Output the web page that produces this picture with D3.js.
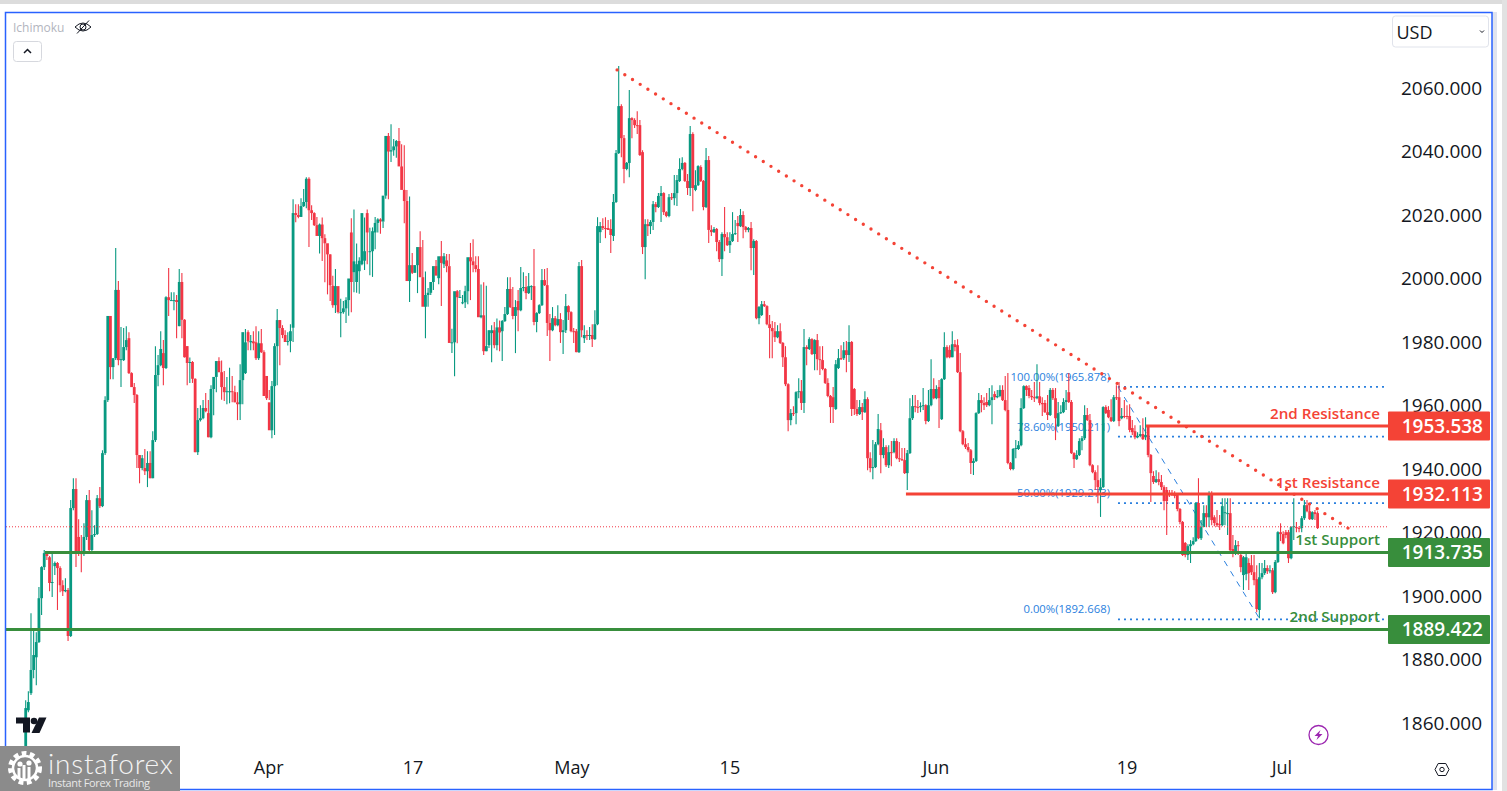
<!DOCTYPE html>
<html>
<head>
<meta charset="utf-8">
<title>XAU/USD H4</title>
<script src="https://cdn.jsdelivr.net/npm/d3@7"></script>
<style>
    html, body { margin: 0; padding: 0; background: #fff; overflow: hidden; }
    svg { display: block; }
</style>
</head>
<body>
<div id="chart"></div>
<script>
// Candle values (ten candles per row)
const opens = [
1851.4,1864.0,1869.4,1876.7,1880.7,1885.5,1899.3,1909.1,1913.5,1912.2,
1904.1,1909.4,1910.4,1908.8,1903.4,1901.5,1901.9,1887.4,1927.7,1933.7,
1918.6,1913.5,1913.2,1918.6,1930.2,1914.5,1919.2,1919.5,1930.8,1928.3,
1945.0,1961.7,1988.2,1972.1,1974.9,1996.4,1974.3,1974.3,1978.4,1981.2,
1970.2,1965.8,1963.3,1944.4,1940.3,1940.3,1939.3,1941.9,1937.1,1949.1,
1969.6,1972.7,1976.5,1971.8,1994.1,1993.2,1993.2,1993.2,1985.0,1998.9,
1987.0,1978.7,1973.4,1973.7,1968.4,1945.3,1955.4,1956.0,1959.2,1957.6,
1950.0,1965.2,1969.0,1974.0,1970.5,1965.8,1964.2,1964.5,1964.5,1964.2,
1961.0,1960.4,1968.0,1970.2,1983.1,1979.9,1980.2,1979.9,1974.9,1979.6,
1976.8,1969.3,1961.0,1952.2,1966.1,1978.7,1986.9,1984.4,1982.2,1980.0,
1980.3,1984.5,2020.6,2020.0,2019.4,2022.8,2024.1,2031.4,2021.5,2020.6,
2016.8,2013.4,2017.0,2012.7,2011.1,2007.6,1997.7,1991.6,1997.6,1989.4,
1989.4,1990.6,1993.2,2014.5,2002.0,1998.9,2002.3,2004.5,2005.6,2020.6,
2008.6,2008.6,2014.5,2017.5,2018.6,2017.9,2026.1,2044.9,2040.0,2040.4,
2041.6,2043.3,2035.3,2027.9,2024.4,1999.2,2004.2,2001.8,2004.2,2009.9,
2000.4,1991.1,1994.8,1995.5,1998.9,2003.9,2000.1,2007.0,2004.5,2005.7,
2003.9,1979.7,1979.9,1996.0,1994.1,1992.2,1992.5,1996.0,2006.7,2005.4,
2004.2,2003.0,1987.8,1988.4,1977.1,1979.0,1982.8,1983.7,1979.0,1984.6,
1983.4,1986.6,1988.8,1996.7,1991.0,1988.2,1992.9,1990.0,1997.0,1997.3,
1995.4,1997.6,1997.6,1986.3,1989.1,1991.6,1999.5,1997.9,1986.0,1983.7,
1987.5,1985.3,1987.2,1983.1,1983.7,1991.3,1989.4,1983.4,1983.4,1976.8,
2003.9,1981.2,1982.2,1981.9,1982.2,1980.9,1985.6,2014.6,2016.5,2015.9,
2015.9,2015.6,2013.4,2024.1,2039.5,2054.3,2044.2,2034.5,2036.4,2050.5,
2049.9,2048.3,2048.3,2039.8,2009.9,2017.1,2016.5,2017.8,2023.4,2022.5,
2026.0,2026.9,2020.9,2019.7,2025.6,2025.3,2026.9,2030.7,2034.5,2036.4,
2030.7,2028.5,2045.5,2027.9,2029.4,2035.1,2030.7,2022.5,2037.3,2015.3,
2014.6,2015.6,2011.5,2006.1,2014.0,2013.0,2010.5,2011.8,2014.0,2017.5,
2016.5,2020.0,2016.2,2015.3,2015.9,2009.6,2011.8,1987.5,1988.5,1991.9,
1991.3,1985.6,1984.4,1983.4,1981.5,1983.4,1979.7,1975.2,1966.7,1955.4,
1957.6,1957.6,1964.2,1964.5,1960.8,1978.4,1977.8,1980.9,1976.2,1980.6,
1974.6,1974.3,1971.5,1967.1,1963.0,1962.6,1958.9,1971.8,1974.9,1974.9,
1977.4,1975.9,1980.0,1965.2,1958.9,1957.3,1959.5,1957.9,1962.0,1943.4,
1940.3,1940.6,1947.8,1952.2,1944.4,1946.9,1941.2,1945.3,1945.3,1948.8,
1943.4,1943.1,1942.8,1938.7,1945.0,1956.0,1959.8,1959.5,1959.5,1959.8,
1960.1,1955.1,1960.1,1965.2,1962.3,1965.8,1955.7,1968.3,1978.4,1977.5,
1975.2,1979.3,1979.0,1970.5,1951.9,1947.8,1946.9,1945.9,1941.9,1942.5,
1957.6,1961.7,1960.8,1961.1,1960.1,1961.7,1963.6,1962.6,1963.0,1964.9,
1961.7,1958.6,1941.9,1940.0,1946.3,1946.3,1947.5,1959.2,1966.1,1965.5,
1963.0,1962.6,1962.3,1962.9,1960.8,1960.8,1957.9,1957.0,1964.9,1962.3,
1953.5,1957.6,1957.9,1961.1,1964.2,1961.1,1945.0,1943.1,1944.4,1948.8,
1949.7,1957.0,1955.4,1941.2,1939.0,1936.5,1933.4,1934.3,1959.5,1958.6,
1956.3,1955.1,1962.6,1962.6,1956.0,1956.7,1956.7,1956.7,1952.9,1951.9,
1950.0,1950.4,1951.0,1950.0,1953.5,1944.4,1937.8,1935.9,1936.8,1935.9,
1934.3,1933.4,1932.1,1932.1,1931.8,1931.8,1927.4,1923.3,1916.7,1912.9,
1915.7,1916.3,1917.3,1929.3,1918.2,1921.7,1926.1,1924.8,1932.1,1924.8,
1923.0,1922.6,1922.3,1926.1,1925.8,1926.1,1914.8,1913.5,1916.0,1912.9,
1906.6,1906.9,1910.4,1909.7,1907.5,1905.3,1895.6,1905.9,1907.2,1908.8,
1907.8,1908.1,1901.2,1910.7,1920.1,1919.5,1920.1,1920.1,1911.9,1921.7,
1921.7,1921.4,1921.4,1924.5,1928.6,1926.7,1924.2,1926.4,1926.1,
];
const highs = [
1867.2,1870.0,1894.6,1889.2,1888.6,1902.8,1909.4,1914.5,1914.1,1912.6,
1913.5,1910.9,1910.7,1909.4,1905.0,1905.6,1902.5,1930.2,1937.1,1937.1,
1924.2,1919.2,1922.9,1931.8,1933.4,1927.0,1922.3,1931.8,1934.3,1945.9,
1962.9,1988.2,1988.2,1974.9,2009.6,1999.2,1984.7,1984.4,1985.0,1983.1,
1970.5,1967.1,1963.6,1944.4,1944.4,1946.3,1945.6,1945.6,1951.9,1978.7,
1975.9,1983.4,1980.6,1994.4,2003.3,1995.7,1995.7,1994.8,2003.0,2001.7,
1987.2,1978.7,1975.1,1974.0,1968.6,1959.2,1960.1,1961.7,1963.9,1961.7,
1966.4,1966.5,1970.5,1975.2,1974.2,1970.9,1969.0,1971.9,1969.3,1966.2,
1964.2,1973.0,1974.8,1984.1,1983.7,1982.2,1983.4,1985.0,1983.4,1984.1,
1977.4,1969.3,1964.9,1967.7,1979.6,1990.4,1986.9,1985.3,1983.7,1983.1,
1985.6,2025.0,2023.4,2023.4,2025.3,2028.2,2031.9,2031.9,2023.1,2020.9,
2019.4,2017.3,2019.2,2013.9,2010.0,2007.6,2000.9,2003.0,1996.7,1993.6,
1992.9,1994.1,1995.5,2019.0,2021.7,2011.0,2006.7,2005.3,2019.2,2021.7,
2016.0,2016.1,2019.4,2019.0,2019.0,2017.9,2029.1,2045.8,2048.6,2043.9,
2043.6,2047.4,2042.3,2042.0,2027.9,2025.8,2008.0,2004.2,2006.1,2014.9,
2012.1,2002.2,1997.0,1997.3,2001.7,2005.8,2005.8,2011.8,2008.0,2007.7,
2007.7,1984.2,1980.0,1996.4,1996.4,1994.8,1997.7,2004.6,2011.2,2012.4,
2007.0,2007.0,1998.1,1998.8,1997.7,1983.7,1985.3,1986.3,1987.4,1986.8,
1986.9,1991.0,2000.4,2000.4,1997.3,1993.2,1996.4,2003.6,2002.0,2000.8,
2001.7,1997.9,2009.3,1989.4,1991.9,2003.0,2003.0,2003.3,1988.8,1991.0,
1988.2,1991.6,1989.1,1986.9,1995.1,1991.6,1989.7,1984.4,1984.1,2005.2,
2005.8,1985.3,1983.7,1984.7,1985.6,1990.0,2019.3,2017.8,2019.0,2019.3,
2018.4,2018.7,2026.6,2040.5,2066.9,2054.9,2045.2,2036.7,2059.4,2050.8,
2050.5,2052.7,2049.9,2040.4,2018.7,2018.7,2018.4,2024.4,2024.1,2026.9,
2029.1,2027.2,2021.2,2026.6,2026.9,2032.6,2032.6,2037.9,2038.2,2036.7,
2032.9,2048.0,2046.1,2034.1,2035.7,2035.7,2031.0,2041.1,2038.6,2016.8,
2016.2,2015.9,2012.1,2014.6,2022.5,2014.6,2014.6,2020.9,2018.4,2019.7,
2021.9,2021.2,2016.5,2016.2,2017.8,2012.4,2012.1,1991.3,1992.9,1992.9,
1991.6,1988.5,1986.6,1986.3,1985.3,1985.9,1980.0,1978.7,1967.0,1958.9,
1959.8,1964.5,1968.6,1968.0,1984.1,1979.0,1981.5,1981.2,1980.9,1982.5,
1978.7,1978.7,1971.8,1968.6,1963.3,1965.8,1974.3,1977.8,1979.0,1980.0,
1980.3,1985.3,1980.3,1965.5,1961.7,1961.7,1960.8,1964.5,1962.6,1945.3,
1949.1,1948.5,1957.3,1954.5,1949.7,1947.5,1947.5,1948.8,1949.7,1949.7,
1948.5,1946.6,1946.6,1946.0,1962.3,1963.3,1963.3,1961.7,1961.0,1965.5,
1960.4,1964.9,1974.6,1968.6,1966.4,1968.0,1968.6,1983.1,1979.0,1979.0,
1983.4,1980.6,1980.9,1976.5,1952.3,1949.7,1948.2,1946.3,1943.4,1957.9,
1963.9,1963.3,1962.6,1963.9,1965.5,1966.4,1964.5,1964.9,1966.4,1966.4,
1969.3,1970.2,1942.2,1946.6,1949.1,1948.8,1962.3,1966.4,1966.4,1966.4,
1964.9,1967.4,1973.0,1967.4,1962.6,1961.7,1963.3,1965.5,1965.5,1965.5,
1961.1,1960.1,1962.3,1964.9,1970.2,1961.7,1945.3,1945.9,1949.7,1950.4,
1960.1,1959.2,1957.3,1941.5,1939.6,1941.2,1937.1,1959.8,1960.1,1959.8,
1962.0,1963.3,1966.4,1967.4,1959.2,1961.7,1960.1,1960.4,1955.4,1953.8,
1951.6,1953.8,1956.0,1956.3,1953.8,1944.7,1939.3,1939.6,1939.0,1938.1,
1934.9,1934.3,1933.4,1933.4,1933.0,1932.1,1927.7,1923.6,1917.0,1916.3,
1917.6,1918.5,1929.6,1937.1,1923.9,1928.6,1928.6,1933.0,1933.0,1925.4,
1927.1,1925.5,1930.8,1930.8,1930.8,1930.8,1919.2,1917.6,1917.3,1913.8,
1912.6,1913.5,1911.9,1912.9,1912.9,1909.7,1910.4,1910.4,1911.3,1909.7,
1909.7,1908.8,1911.3,1920.4,1922.9,1920.4,1920.8,1920.8,1922.0,1930.8,
1923.3,1922.0,1925.2,1930.2,1930.2,1928.6,1926.7,1927.1,1926.7,
];
const lows = [
1849.2,1863.4,1868.8,1874.1,1871.9,1885.2,1894.0,1908.2,1911.3,1901.5,
1899.7,1906.6,1895.6,1901.2,1900.0,1901.2,1885.8,1887.1,1927.0,1909.1,
1912.6,1907.5,1912.6,1917.6,1913.5,1914.2,1918.6,1919.2,1927.7,1928.0,
1944.4,1961.1,1968.3,1968.3,1974.3,1972.7,1965.8,1974.0,1977.4,1969.9,
1968.4,1960.8,1940.3,1935.5,1939.6,1938.1,1934.3,1937.1,1937.1,1948.5,
1966.1,1972.4,1966.4,1971.5,1988.2,1993.0,1990.0,1981.2,1985.0,1981.2,
1975.1,1966.4,1967.1,1967.1,1945.3,1944.4,1955.0,1955.7,1957.9,1950.0,
1949.7,1956.9,1964.2,1970.5,1961.8,1961.4,1960.4,1960.7,1961.0,1961.0,
1955.4,1955.4,1960.4,1969.9,1977.4,1977.4,1977.4,1974.3,1974.3,1976.5,
1970.0,1961.7,1961.7,1949.7,1950.7,1966.4,1972.7,1981.2,1982.2,1978.9,
1976.8,1980.0,2017.7,2019.0,2019.4,2022.5,2022.1,2009.9,2018.4,2016.5,
2016.5,2007.9,2005.5,1998.8,1995.0,1992.9,1990.8,1989.1,1989.0,1981.5,
1988.9,1986.0,1988.3,1989.4,1995.7,1995.5,1995.2,2004.2,2002.7,2004.5,
2001.0,2000.5,2009.2,2014.5,2014.1,2015.9,2025.1,2025.0,2036.7,2038.7,
2038.0,2041.1,2031.6,2017.4,2022.5,1992.6,2001.4,2001.8,1995.4,2004.2,
1998.9,1981.2,1991.1,1994.8,1996.4,2003.3,1998.2,1991.3,2003.3,2002.0,
2003.9,1976.5,1969.2,1979.6,1994.0,1991.9,1990.7,1991.9,1993.2,2002.0,
2002.0,1998.6,1987.5,1975.9,1977.1,1978.1,1973.6,1978.0,1977.4,1977.1,
1974.0,1986.3,1988.5,1990.7,1987.2,1976.5,1983.4,1989.7,1996.0,1993.5,
1995.1,1993.2,1985.3,1983.1,1988.8,1991.3,1997.6,1981.9,1974.0,1983.4,
1985.0,1985.0,1979.7,1976.2,1982.8,1986.9,1983.1,1979.7,1976.8,1976.5,
1981.5,1979.7,1980.6,1980.6,1978.4,1980.6,1985.3,2011.2,2015.3,2012.7,
2015.3,2008.0,2011.8,2023.8,2039.2,2038.2,2030.0,2034.1,2031.9,2044.2,
2047.4,2045.5,2038.6,2007.7,1999.8,2013.4,2014.0,2015.3,2020.9,2022.2,
2017.8,2020.0,2019.3,2019.3,2024.7,2023.1,2022.8,2030.4,2034.1,2030.4,
2026.3,2026.0,2021.2,2027.5,2029.1,2030.4,2021.5,2022.2,2011.2,2013.4,
2014.3,2008.6,2005.2,2000.8,2008.6,2010.2,2008.0,2011.5,2013.7,2011.5,
2016.2,2012.7,2014.6,2014.6,2002.6,2001.1,1987.2,1985.6,1988.2,1991.0,
1985.3,1974.9,1974.9,1980.0,1981.2,1979.4,1972.1,1966.1,1951.9,1953.8,
1956.7,1954.1,1962.3,1958.6,1957.6,1972.7,1977.5,1975.9,1971.1,1971.1,
1969.6,1971.1,1966.8,1962.6,1954.5,1954.5,1958.6,1971.5,1974.3,1974.3,
1970.5,1973.7,1956.7,1957.0,1956.7,1957.0,1955.4,1957.6,1939.6,1939.0,
1936.8,1940.3,1947.5,1938.7,1943.4,1940.6,1940.3,1940.9,1945.0,1943.1,
1942.2,1942.5,1938.4,1933.4,1944.7,1955.4,1957.9,1957.6,1957.9,1958.6,
1954.1,1954.8,1959.8,1962.0,1962.0,1952.9,1955.4,1968.0,1974.9,1974.9,
1975.2,1977.1,1970.2,1951.6,1947.5,1946.3,1945.3,1938.4,1938.1,1942.2,
1957.3,1957.9,1958.6,1959.5,1959.8,1954.1,1961.7,1962.3,1962.6,1961.4,
1958.2,1941.5,1939.6,1939.6,1943.4,1946.0,1947.2,1958.9,1963.0,1962.3,
1961.7,1961.1,1962.0,1960.1,1956.7,1957.6,1955.4,1956.7,1961.7,1949.1,
1953.2,1957.3,1957.6,1958.6,1960.8,1944.7,1940.3,1942.8,1944.1,1945.9,
1949.1,1955.1,1940.9,1938.7,1933.4,1929.2,1924.9,1934.0,1957.3,1956.0,
1954.8,1954.8,1961.7,1953.5,1955.7,1956.0,1955.7,1951.6,1950.7,1949.4,
1949.7,1950.0,1949.1,1949.1,1943.7,1929.6,1935.3,1935.6,1934.9,1933.4,
1927.0,1919.2,1931.2,1931.5,1930.8,1926.7,1922.6,1912.6,1912.2,1911.3,
1910.4,1916.0,1917.0,1917.9,1917.6,1921.7,1921.7,1921.7,1922.3,1922.0,
1921.7,1920.8,1922.0,1922.3,1919.2,1913.8,1912.2,1912.9,1912.9,1907.5,
1901.9,1905.0,1901.9,1906.6,1903.4,1894.9,1893.0,1905.3,1906.6,1906.9,
1907.2,1900.6,1900.9,1910.4,1917.3,1916.3,1918.2,1910.4,1911.6,1917.6,
1920.1,1920.1,1920.1,1923.9,1926.4,1923.9,1923.9,1923.9,1921.1,
];
const closes = [
1864.7,1866.6,1876.7,1881.4,1885.5,1899.3,1909.1,1913.5,1912.6,1904.1,
1904.4,1910.4,1908.8,1903.4,1901.5,1901.9,1887.4,1927.7,1933.7,1913.5,
1913.5,1913.2,1918.6,1930.2,1914.5,1919.2,1919.5,1930.8,1928.3,1945.0,
1961.7,1988.2,1972.1,1974.9,1996.4,1974.3,1974.6,1978.4,1980.6,1970.2,
1965.8,1963.3,1944.4,1940.3,1943.4,1939.3,1941.9,1937.1,1949.1,1969.6,
1972.7,1977.8,1971.8,1994.1,1993.2,1993.2,1993.2,1992.6,1998.9,1987.0,
1975.2,1973.4,1973.7,1968.4,1945.3,1955.4,1956.0,1959.2,1958.2,1950.0,
1965.2,1969.0,1974.0,1970.5,1965.8,1964.2,1964.5,1964.5,1964.2,1961.0,
1960.4,1968.0,1983.1,1979.9,1980.2,1980.3,1979.6,1974.9,1979.6,1976.8,
1963.0,1962.3,1952.2,1966.1,1978.7,1986.9,1984.4,1982.2,1980.0,1980.3,
1983.4,2020.6,2020.0,2019.4,2022.8,2024.1,2031.4,2021.5,2020.6,2016.8,
2013.4,2017.0,2012.7,2011.1,2007.6,1997.9,1991.6,1997.6,1989.4,1989.4,
1990.6,1993.2,2000.0,1998.9,2005.4,2004.5,2005.6,2020.6,2008.6,2014.5,
2008.6,2014.9,2017.5,2018.6,2018.0,2026.1,2044.9,2040.0,2040.4,2041.6,
2043.3,2035.3,2027.9,2024.4,1999.2,2004.2,2001.8,2004.2,2009.9,2000.4,
1991.1,1994.8,1995.5,1998.9,2003.9,2000.9,2007.0,2004.9,2007.0,2003.9,
1979.7,1979.9,1996.0,1994.1,1994.2,1992.5,1996.0,2006.7,2005.4,2004.2,
2003.0,1987.8,1988.4,1977.1,1978.7,1983.7,1983.7,1979.0,1984.6,1983.0,
1986.6,1988.8,1996.7,1991.0,1988.2,1991.0,1990.0,1997.0,1997.3,1995.4,
1997.6,1997.6,1986.3,1989.1,1991.6,1999.5,1997.9,1986.0,1983.7,1987.5,
1985.3,1987.2,1983.1,1983.7,1991.3,1989.4,1983.4,1983.1,1976.8,2003.9,
1983.7,1982.2,1981.9,1982.2,1980.9,1985.6,2016.5,2016.5,2015.9,2015.8,
2015.3,2013.7,2024.1,2039.5,2054.3,2044.2,2034.5,2036.4,2050.5,2049.9,
2048.3,2048.2,2038.9,2009.9,2017.1,2016.5,2017.8,2023.4,2022.5,2026.0,
2026.9,2020.9,2019.7,2025.6,2025.3,2026.9,2031.0,2034.5,2036.4,2030.7,
2028.5,2045.5,2028.5,2029.4,2035.4,2030.7,2022.5,2037.3,2015.3,2014.6,
2015.6,2011.5,2006.1,2014.0,2013.0,2010.5,2011.8,2014.0,2014.3,2016.5,
2020.0,2016.2,2015.3,2015.9,2009.6,2011.8,1987.5,1991.0,1991.9,1991.3,
1985.6,1984.4,1983.4,1981.5,1983.4,1979.7,1975.2,1966.7,1955.4,1957.6,
1957.5,1964.2,1964.5,1960.8,1978.4,1977.8,1980.9,1976.2,1980.6,1974.6,
1974.3,1971.5,1967.1,1963.0,1959.5,1959.5,1973.0,1974.9,1974.8,1977.4,
1975.9,1980.0,1958.9,1958.9,1957.3,1959.5,1957.9,1962.0,1943.4,1940.3,
1940.6,1947.8,1952.6,1944.4,1946.9,1941.2,1945.3,1945.2,1948.8,1943.4,
1943.1,1942.8,1938.7,1945.0,1956.0,1959.8,1959.5,1959.4,1959.8,1960.1,
1955.1,1960.1,1965.2,1962.3,1965.2,1962.3,1968.3,1978.4,1975.2,1975.2,
1979.3,1978.4,1970.5,1951.9,1947.8,1946.9,1945.9,1941.9,1942.5,1957.6,
1961.7,1960.8,1960.1,1960.1,1961.7,1962.6,1962.6,1963.0,1964.9,1961.7,
1958.6,1941.9,1940.0,1946.3,1946.6,1947.5,1959.2,1966.1,1964.9,1963.0,
1962.6,1962.3,1962.9,1960.8,1960.4,1957.9,1957.0,1964.9,1962.3,1956.0,
1957.6,1957.9,1961.1,1961.7,1961.1,1945.0,1943.1,1944.4,1948.8,1949.7,
1957.0,1955.4,1941.2,1939.0,1936.5,1934.3,1934.3,1959.5,1957.6,1956.3,
1955.1,1962.6,1962.3,1955.1,1956.7,1956.6,1956.4,1952.3,1951.6,1950.0,
1950.4,1951.0,1949.4,1950.7,1944.4,1938.7,1935.9,1936.8,1935.9,1934.3,
1929.9,1929.9,1932.0,1931.8,1931.7,1927.4,1923.3,1912.9,1912.9,1915.7,
1916.3,1917.3,1929.3,1918.2,1921.7,1926.1,1924.8,1932.1,1923.9,1923.0,
1922.3,1922.3,1928.3,1926.4,1926.1,1914.4,1913.5,1916.0,1915.9,1909.1,
1912.2,1912.2,1907.2,1907.5,1905.0,1895.9,1905.9,1907.2,1908.8,1907.8,
1908.1,1901.2,1910.7,1920.1,1919.5,1916.6,1919.2,1911.9,1921.7,1922.0,
1921.4,1921.3,1924.5,1928.6,1926.7,1924.2,1926.4,1925.8,1921.4,
];

// Axis labels and levels
const priceTicks = [2060, 2040, 2020, 2000, 1980, 1960, 1940, 1920, 1900, 1880, 1860];
const dateLabels = ['Apr', '17', 'May', '15', 'Jun', '19', 'Jul'];
const dateIndex = [91.8, 146.3, 206.3, 266, 343.8, 416, 474.5];

const levelNames = ['2nd Resistance', '1st Resistance', '1st Support', '2nd Support'];
const levelPrices = [1953.538, 1932.113, 1913.735, 1889.422];
const levelStart = [423.2, 332.5, 7.3, -7.5];

const fibLabels = ['100.00%(1965.878)', '78.60%(1950.211)', '50.00%(1929.273)', '0.00%(1892.668)'];
const fibPrices = [1965.878, 1950.211, 1929.273, 1892.668];

const trendIndex = [223.4, 500];
const trendPrice = [2065.7, 1921.1];
const fibDiagonalIndex = [412.6, 466.2];
const lastPrice = 1921.8;

const width = 1507, height = 791;
const green = '#089981', red = '#f23645';
const levelColors = ['#f44336', '#f44336', '#388e3c', '#388e3c'];
const fibBlue = '#2a7fde';
const font = '"Open Sans", "Noto Sans", sans-serif';

const svg = d3.select('#chart').append('svg')
    .attr('width', width)
    .attr('height', height)
    .style('font-family', font);

const x = d3.scaleLinear().domain([0, 488]).range([25.7, 1317.6]);
const y = d3.scaleLinear().domain([1860, 2060]).range([723, 88]);

// Frame of the screenshot
svg.append('rect').attr('x', 0).attr('y', 0).attr('width', width).attr('height', 4).attr('fill', '#dcdcdc');
svg.append('rect').attr('x', 1502).attr('y', 0).attr('width', 5).attr('height', height).attr('fill', '#e2e2e2');
svg.append('rect').attr('x', 1492).attr('y', 12).attr('width', 5).attr('height', 778).attr('fill', '#dfe3ef');

drawPriceLabels();
drawFibonacci();
drawCandles();
drawLevels();
drawTrendline();
drawDateAxis();
drawOverlays();

svg.append('rect')
    .attr('x', 5.5).attr('y', 12.5)
    .attr('width', 1486.5).attr('height', 777)
    .attr('fill', 'none')
    .attr('stroke', '#2962ff')
    .attr('stroke-width', 1.5);

drawWatermark();

function drawPriceLabels() {
    svg.selectAll('.price-tick')
        .data(priceTicks)
        .enter()
        .append('text')
        .attr('class', 'price-tick')
        .attr('x', 1482)
        .attr('y', d => y(d))
        .attr('dy', '0.36em')
        .attr('text-anchor', 'end')
        .attr('font-size', '19px')
        .attr('fill', '#131722')
        .text(d => d.toFixed(3));
}

function drawFibonacci() {
    // Fib levels sit under the candles, as they do on the platform
    svg.selectAll('.fib-line')
        .data(fibPrices)
        .enter()
        .append('line')
        .attr('class', 'fib-line')
        .attr('x1', x(fibDiagonalIndex[0]))
        .attr('x2', 1388)
        .attr('y1', d => y(d))
        .attr('y2', d => y(d))
        .attr('stroke', fibBlue)
        .attr('stroke-width', 1.8)
        .attr('stroke-dasharray', '2 4');

    svg.selectAll('.fib-label')
        .data(fibLabels)
        .enter()
        .append('text')
        .attr('class', 'fib-label')
        .attr('x', 1110)
        .attr('y', (d, i) => y(fibPrices[i]) - 10)
        .attr('dy', '0.36em')
        .attr('text-anchor', 'end')
        .attr('font-size', '11.3px')
        .attr('fill', fibBlue)
        .text(d => d);

    svg.append('line')
        .attr('x1', x(fibDiagonalIndex[0]))
        .attr('y1', y(fibPrices[0]))
        .attr('x2', x(fibDiagonalIndex[1]))
        .attr('y2', y(fibPrices[3]))
        .attr('stroke', fibBlue)
        .attr('stroke-width', 1)
        .attr('stroke-dasharray', '6 6');
}

function drawCandles() {
    const index = d3.range(opens.length);
    const color = i => closes[i] >= opens[i] ? green : red;

    svg.selectAll('.wick')
        .data(index)
        .enter()
        .append('line')
        .attr('class', 'wick')
        .attr('x1', i => x(i))
        .attr('x2', i => x(i))
        .attr('y1', i => y(highs[i]))
        .attr('y2', i => y(lows[i]))
        .attr('stroke', color)
        .attr('stroke-width', 1.1);

    svg.selectAll('.body')
        .data(index)
        .enter()
        .append('rect')
        .attr('class', 'body')
        .attr('x', i => x(i) - 1.4)
        .attr('width', 2.8)
        .attr('y', i => y(Math.max(opens[i], closes[i])))
        .attr('height', i => Math.max(1, Math.abs(y(opens[i]) - y(closes[i]))))
        .attr('fill', color);
}

function drawLevels() {
    svg.append('line')
        .attr('x1', 6).attr('x2', 1388)
        .attr('y1', y(lastPrice)).attr('y2', y(lastPrice))
        .attr('stroke', red)
        .attr('stroke-width', 1)
        .attr('stroke-dasharray', '1 2');

    svg.selectAll('.level-line')
        .data(levelPrices)
        .enter()
        .append('line')
        .attr('class', 'level-line')
        .attr('x1', (d, i) => Math.max(6, x(levelStart[i])))
        .attr('x2', 1388)
        .attr('y1', d => y(d))
        .attr('y2', d => y(d))
        .attr('stroke', (d, i) => levelColors[i])
        .attr('stroke-width', 3);

    svg.selectAll('.level-name')
        .data(levelNames)
        .enter()
        .append('text')
        .attr('class', 'level-name')
        .attr('x', 1380)
        .attr('y', (d, i) => y(levelPrices[i]) - (i < 2 ? 12 : 13))
        .attr('dy', '0.36em')
        .attr('text-anchor', 'end')
        .attr('font-size', '15.2px')
        .attr('font-weight', 600)
        .attr('fill', (d, i) => levelColors[i])
        .text(d => d);

    svg.selectAll('.level-box')
        .data(levelPrices)
        .enter()
        .append('rect')
        .attr('class', 'level-box')
        .attr('x', 1388)
        .attr('y', d => y(d) - 14.5)
        .attr('width', 102)
        .attr('height', 29)
        .attr('rx', 1)
        .attr('fill', (d, i) => levelColors[i]);

    svg.selectAll('.level-value')
        .data(levelPrices)
        .enter()
        .append('text')
        .attr('class', 'level-value')
        .attr('x', 1483)
        .attr('y', d => y(d))
        .attr('dy', '0.36em')
        .attr('text-anchor', 'end')
        .attr('font-size', '19px')
        .attr('font-weight', 600)
        .attr('fill', '#fff')
        .text(d => d.toFixed(3));
}

function drawTrendline() {
    svg.append('line')
        .attr('x1', x(trendIndex[0]))
        .attr('y1', y(trendPrice[0]))
        .attr('x2', x(trendIndex[1]))
        .attr('y2', y(trendPrice[1]))
        .attr('stroke', '#f44336')
        .attr('stroke-width', 3.4)
        .attr('stroke-linecap', 'round')
        .attr('stroke-dasharray', '0 9.08');
}

function drawDateAxis() {
    svg.selectAll('.date-label')
        .data(dateLabels)
        .enter()
        .append('text')
        .attr('class', 'date-label')
        .attr('x', (d, i) => x(dateIndex[i]))
        .attr('y', 768)
        .attr('dy', '0.36em')
        .attr('text-anchor', 'middle')
        .attr('font-size', '18px')
        .attr('fill', '#131722')
        .text(d => d);
}

function drawOverlays() {
    // Indicator legend top left
    svg.append('text')
        .attr('x', 13).attr('y', 32)
        .attr('font-size', '12px')
        .attr('fill', '#b2b5be')
        .text('Ichimoku');

    const eye = svg.append('g').attr('transform', 'translate(83,27)')
        .attr('fill', 'none').attr('stroke', '#131722').attr('stroke-width', 1);
    eye.append('path').attr('d', 'M-8,0 Q0,-8 8,0 Q0,8 -8,0 Z');
    eye.append('circle').attr('r', 3);
    eye.append('line').attr('x1', -6).attr('y1', 6.5).attr('x2', 6).attr('y2', -6.5);

    svg.append('rect')
        .attr('x', 13.5).attr('y', 41.5).attr('width', 28).attr('height', 20).attr('rx', 3)
        .attr('fill', '#fff').attr('stroke', '#d6d8de');
    svg.append('path')
        .attr('d', 'M24,53 L27.5,49.5 L31,53')
        .attr('fill', 'none').attr('stroke', '#131722').attr('stroke-width', 1.5);

    // Currency selector
    svg.append('rect')
        .attr('x', 1392.5).attr('y', 16).attr('width', 96).attr('height', 31).attr('rx', 3)
        .attr('fill', '#fff').attr('stroke', '#e0e3eb');
    svg.append('text')
        .attr('x', 1396.5).attr('y', 39)
        .attr('font-size', '18px')
        .attr('fill', '#131722')
        .text('USD');
    svg.append('path')
        .attr('d', 'M1480,30.5 L1482,32.5 L1484,30.5')
        .attr('fill', 'none').attr('stroke', '#131722').attr('stroke-width', 1);

    // Lightning badge under the chart
    const bolt = svg.append('g').attr('transform', 'translate(1318.5,735)');
    bolt.append('circle').attr('r', 9.5).attr('fill', '#fff').attr('stroke', '#9c27b0').attr('stroke-width', 1.3);
    bolt.append('path').attr('d', 'M2,-5 L-4,1 L-0.5,1 L-2,5 L4,-1 L0.5,-1 Z').attr('fill', '#9c27b0');

    // Settings hexagon
    const gear = svg.append('g').attr('transform', 'translate(1442,769.5)')
        .attr('fill', 'none').attr('stroke', '#131722').attr('stroke-width', 1);
    gear.append('path').attr('d', 'M-3.8,-6 L3.8,-6 L7,0 L3.8,6 L-3.8,6 L-7,0 Z');
    gear.append('circle').attr('r', 2.2);

    // TradingView mark
    const tv = svg.append('g').attr('transform', 'translate(16,717.5)').attr('fill', '#131722');
    tv.append('path').attr('d', 'M0,0 H14 V15 H7 V6 H0 Z');
    tv.append('circle').attr('cx', 18).attr('cy', 3.5).attr('r', 3.3);
    tv.append('path').attr('d', 'M23,0 H30.5 L23.5,15.5 H15.5 Z');
}

function drawWatermark() {
    const mark = svg.append('g');
    mark.append('rect')
        .attr('x', 0).attr('y', 746).attr('width', 180).attr('height', 45)
        .attr('fill', '#8b8b8b');

    const cog = mark.append('g').attr('transform', 'translate(25,768)');
    cog.append('circle').attr('r', 14).attr('fill', 'none')
        .attr('stroke', '#fff').attr('stroke-width', 6).attr('stroke-dasharray', '4.5 3.3');
    cog.append('circle').attr('r', 12).attr('fill', 'none').attr('stroke', '#fff').attr('stroke-width', 2.5);
    cog.append('circle').attr('cx', -5).attr('cy', -4).attr('r', 2.6).attr('fill', '#fff');
    cog.append('circle').attr('cx', 4).attr('cy', -5).attr('r', 2.6).attr('fill', '#fff');
    cog.append('path').attr('d', 'M-6,0 V11 M4,-1 V11 M-1,-3 V11').attr('stroke', '#fff').attr('stroke-width', 3);

    mark.append('text')
        .attr('x', 48).attr('y', 774)
        .attr('font-family', 'Lato, "Open Sans", sans-serif')
        .attr('font-weight', 300)
        .attr('font-size', '28px')
        .attr('fill', '#f4f4f4')
        .attr('textLength', 125)
        .text('instaforex');
    mark.append('text')
        .attr('x', 48).attr('y', 787)
        .attr('font-size', '11px')
        .attr('fill', '#e8e8e8')
        .attr('textLength', 102)
        .text('Instant Forex Trading');
}
</script>
</body>
</html>
